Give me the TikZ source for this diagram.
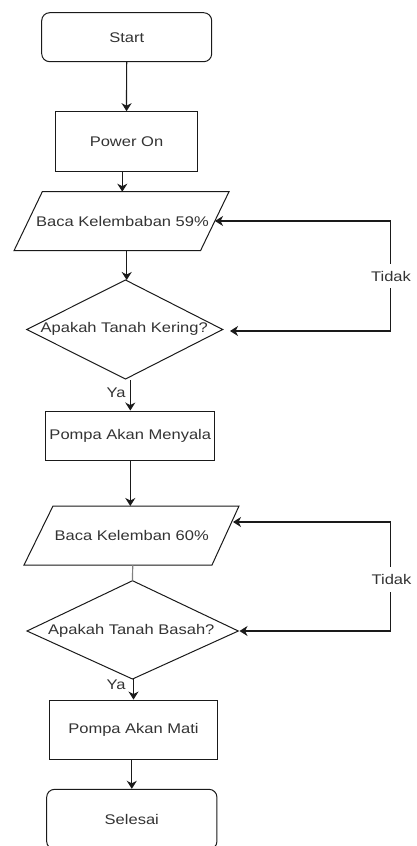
\documentclass[tikz,border=0pt]{standalone}
\usepackage{fontspec}
\setmainfont[FakeStretch=1.18]{Liberation Sans}
\usetikzlibrary{arrows.meta}
\definecolor{lin}{HTML}{1A1A1A}
\definecolor{txt}{HTML}{333333}
\begin{document}
\begin{tikzpicture}[x=1pt,y=-1pt,
  every node/.style={font=\fontsize{14}{16}\selectfont, text=txt},
  termbox/.style={draw=lin, line width=1pt, rounded corners=8pt, inner sep=0pt},
  procbox/.style={draw=lin, line width=1pt, inner sep=0pt},
  shapeline/.style={draw=lin, line width=1pt, line join=miter},
  arr/.style={draw=lin, line width=1.2pt, -{Stealth[length=8pt,width=10pt,inset=2.5pt]}},
  arrboth/.style={draw=lin, line width=1.2pt, {Stealth[length=8pt,width=10pt,inset=2.5pt]}-{Stealth[length=8pt,width=10pt,inset=2.5pt]}},
  lbl/.style={fill=white, inner xsep=1pt, inner ysep=7pt}
]
\useasboundingbox (0,0) rectangle (416,846);
\fill[white] (0,0) rectangle (416,846);
\clip (0,0) rectangle (416,846);

% terminals and processes
\node[termbox, minimum width=170pt, minimum height=49pt] (start) at (126.7,37.2) {Start};
\node[procbox, minimum width=141.6pt, minimum height=60pt] (power) at (126.5,141.7) {Power On};
\node[procbox, minimum width=169.3pt, minimum height=49.7pt] (pump1) at (130.3,435.9) {Pompa Akan Menyala};
\node[procbox, minimum width=168.4pt, minimum height=59.3pt] (pump2) at (133.5,729.7) {Pompa Akan Mati};
\node[termbox, minimum width=170.3pt, minimum height=60pt] (finish) at (131.8,819.3) {Selesai};

% parallelogram 1
\coordinate (p1a) at (42.3,191.7);
\coordinate (p1b) at (229,191.7);
\coordinate (p1c) at (200.5,250.7);
\coordinate (p1d) at (14,250.7);
\draw[shapeline] (p1a) -- (p1b) -- (p1c) -- (p1d) -- cycle;
\node (p1) at (122.5,221) {Baca Kelembaban 59\%};
\coordinate (p1n) at (122.3,191.7);
\coordinate (p1s) at (126.7,250.7);
\coordinate (p1e) at (215,221);

% diamond 1
\coordinate (d1n) at (125.5,280);
\coordinate (d1e) at (222.7,329.5);
\coordinate (d1s) at (125.5,379);
\coordinate (d1w) at (26.7,329.5);
\draw[shapeline] (d1n) -- (d1e) -- (d1s) -- (d1w) -- cycle;
\node (d1) at (124.2,329) {Apakah Tanah Kering?};
\coordinate (d1t) at (230,331);
\coordinate (loop1) at (390.7,331);

% parallelogram 2
\coordinate (p2a) at (53,506);
\coordinate (p2b) at (239,506);
\coordinate (p2c) at (212,565);
\coordinate (p2d) at (24,565);
\draw[shapeline] (p2a) -- (p2b) -- (p2c) -- (p2d) -- cycle;
\node (p2) at (131.7,535) {Baca Kelemban 60\%};
\coordinate (p2n) at (130.7,506);
\coordinate (p2s) at (132.7,565);
\coordinate (p2e) at (233,522);

% diamond 2
\coordinate (d2n) at (132.5,580.7);
\coordinate (d2e) at (238.3,631);
\coordinate (d2s) at (132.5,679);
\coordinate (d2w) at (27,631);
\draw[shapeline] (d2n) -- (d2e) -- (d2s) -- (d2w) -- cycle;
\node (d2) at (131.3,630.5) {Apakah Tanah Basah?};
\coordinate (d2t) at (239.5,631);
\coordinate (loop2) at (390.7,631);

% connectors
\draw[arr] (start) -- (power);
\draw[arr] (power.south -| p1n) -- (p1n);
\draw[arr] (p1s) -- (p1s |- d1n);
\draw[arrboth] (d1t) -- (loop1) |- (p1e);
\node[lbl] (t1) at (391,276) {Tidak};
\node (ya1) at (116,392.5) {Ya};
\draw[arr] (d1s -| pump1) ++(0,1) -- (pump1.north);
\draw[arr] (pump1.south) -- (pump1.south |- p2n);
\draw[arrboth] (d2t) -- (loop2) |- (p2e);
\node[lbl] (t2) at (391.5,579.5) {Tidak};
\draw[draw=gray, line width=1.2pt] (p2s) -- (d2n);
\node (ya2) at (116,684.5) {Ya};
\draw[arr] (d2s -| pump2) -- (pump2.north);
\draw[arr] (pump2.south -| finish) -- (finish.north);
\end{tikzpicture}
\end{document}
